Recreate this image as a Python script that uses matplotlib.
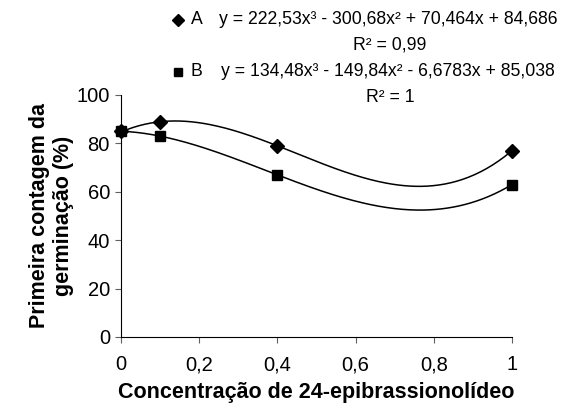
import numpy as np
import matplotlib
matplotlib.use("Agg")
import matplotlib.pyplot as plt
from matplotlib.lines import Line2D

plt.rcParams['font.family'] = ['Liberation Sans', 'DejaVu Sans']

# data
conc = [0, 0.1, 0.4, 1]
series_names = ['A', 'B']
values_a = [85, 89, 79, 77]
values_b = [85, 83, 67, 63]
coef_a = [222.53, -300.68, 70.464, 84.686]
coef_b = [134.48, -149.84, -6.6783, 85.038]
eq_a = "y = 222,53x³ - 300,68x² + 70,464x + 84,686"
eq_b = "y = 134,48x³ - 149,84x² - 6,6783x + 85,038"
r2_a = "R² = 0,99"
r2_b = "R² = 1"
xticks = [0, 0.2, 0.4, 0.6, 0.8, 1]
xtick_labels = ['0', '0,2', '0,4', '0,6', '0,8', '1']
yticks = [0, 20, 40, 60, 80, 100]

fig = plt.figure(figsize=(5.62, 4.16), dpi=100)
ax = fig.add_axes([121 / 562, 1 - 337 / 416, 391 / 562, 242 / 416])

xs = np.linspace(0, 1, 200)
ax.plot(xs, np.polyval(coef_a, xs), color='black', lw=1.1)
ax.plot(xs, np.polyval(coef_b, xs), color='black', lw=1.1)
ax.plot(conc, values_a, 'D', color='black', ms=7, clip_on=False)
ax.plot(conc, values_b, 's', color='black', ms=7, clip_on=False)

ax.set_xlim(0, 1)
ax.set_ylim(0, 100)
ax.set_xticks(xticks)
ax.set_xticklabels(xtick_labels)
ax.set_yticks(yticks)
ax.tick_params(labelsize=14.5, length=4, color='#606060')
ax.tick_params(axis='x', pad=9)
ax.tick_params(axis='y', pad=4)
ax.spines['top'].set_visible(False)
ax.spines['right'].set_visible(False)

ax.set_xlabel("Concentração de 24-epibrassionolídeo", fontsize=15.5,
              fontweight='bold', labelpad=6)
ax.set_ylabel("Primeira contagem da\ngerminação (%)", fontsize=15.5,
              fontweight='bold', labelpad=2, linespacing=1.15)

# legend with equations
rows = [(series_names[0], 'D', eq_a, r2_a, 20 / 416),
        (series_names[1], 's', eq_b, r2_b, 72 / 416)]
for name, mk, eq, r2, yy in rows:
    y = 1 - yy
    fig.add_artist(Line2D([178 / 562], [y], marker=mk, color='black',
                          ms=6, transform=fig.transFigure))
    fig.text(191 / 562, y, name, fontsize=12.7, va='center')
    fig.text(388 / 562, y, eq, fontsize=12.7, va='center', ha='center')
    fig.text(390 / 562, y - 25 / 416, r2, fontsize=12.7, va='center',
             ha='center')

fig.savefig("out.png", dpi=100)
